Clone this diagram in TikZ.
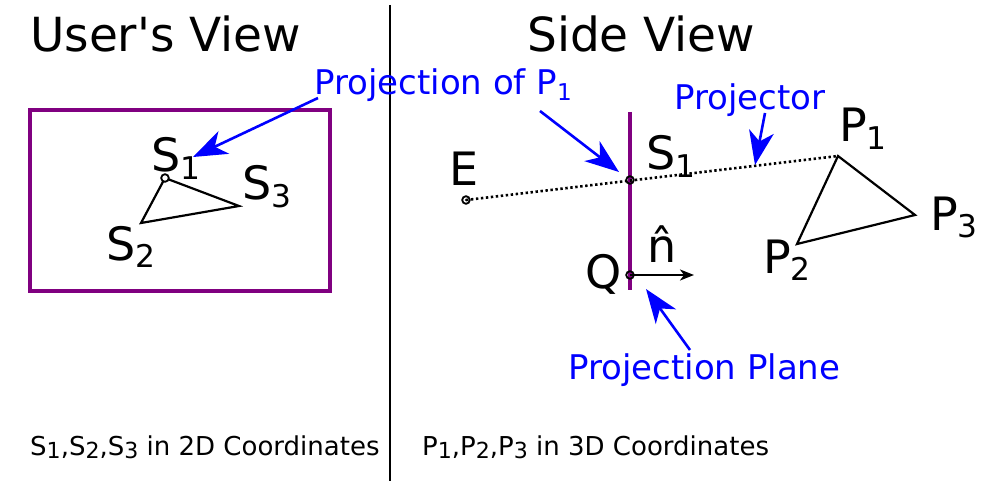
\documentclass[tikz,border=0pt]{standalone}
\usepackage{fontspec}
\setmainfont{DejaVu Sans}
\usepackage{tikz}
\usetikzlibrary{arrows.meta}
\definecolor{planepurple}{RGB}{128, 0, 128}
\definecolor{noteblue}{RGB}{0, 0, 255}
\newcommand{\sidx}[1]{\raisebox{-0.17em}{\scalebox{0.68}{#1}}}
\newcommand{\cidx}[1]{\raisebox{-0.12em}{\scalebox{0.85}{#1}}}
\tikzset{
  viewtitle/.style={font=\fontsize{47}{50}\selectfont, inner sep=0pt, anchor=base west},
  ptlabel/.style={font=\fontsize{46}{50}\selectfont, inner sep=0pt, anchor=base west},
  bluenote/.style={font=\fontsize{34}{36}\selectfont, text=noteblue, inner sep=0pt, anchor=base west},
  caption/.style={font=\fontsize{26}{28}\selectfont, inner sep=0pt, anchor=base west},
  pointer/.style={noteblue, line width=2.6pt, -{Stealth[length=34pt,width=25pt,inset=10pt]}},
  dotring/.style={line width=1.8pt},
}

\begin{document}
\begin{tikzpicture}[x=1pt, y=-1pt]
  \useasboundingbox (0,0) rectangle (993,481);
  % divider between the two views
  \coordinate (divtop) at (390,5);
  \coordinate (divbot) at (390,481);
  \draw[line width=2pt] (divtop) -- (divbot);

  \node[viewtitle] (usertitle) at (30,52) {User\textquotesingle s View};
  \node[viewtitle] (sidetitle) at (527,52) {Side View};

  % user's view: the screen
  \draw[planepurple, line width=4pt] (30,110) rectangle (330,291);
  \coordinate (s1) at (165,178);
  \coordinate (s2) at (141,223);
  \coordinate (s3) at (239,206);
  \draw[line width=2.2pt, line join=miter] (s1) -- (s2) -- (s3) -- cycle;
  \draw[dotring, fill=white] (s1) circle (3.8);
  \node[ptlabel] (s1lbl) at (151,172) {S\sidx{1}};
  \node[ptlabel] (s2lbl) at (106,260) {S\sidx{2}};
  \node[ptlabel] (s3lbl) at (242,200) {S\sidx{3}};

  % side view
  \coordinate (e) at (466,200);
  \coordinate (proj) at (630,180);
  \coordinate (p1) at (838,156);
  \coordinate (p2) at (797,244);
  \coordinate (p3) at (915,215);
  \coordinate (q) at (630,275);
  \coordinate (ntip) at (694,275);
  \coordinate (planetop) at (630,112);
  \coordinate (planebot) at (630,290);
  \draw[planepurple, line width=4pt] (planetop) -- (planebot);
  \draw[line width=2.6pt, dash pattern=on 2.4pt off 2.6pt] (e) -- (p1);
  \draw[line width=2.2pt, line join=miter] (p1) -- (p3) -- (p2) -- cycle;
  \draw[line width=1.8pt, -{Stealth[length=14pt,width=11pt,inset=4pt]}] (q) -- (ntip);
  \foreach \pt in {e, proj, q}
    \draw[dotring] (\pt) circle (3.8);
  \fill (e) circle (1.2);

  \node[ptlabel] (elbl) at (449,186) {E};
  \node[ptlabel] (projlbl) at (646,170) {S\sidx{1}};
  \node[ptlabel] (qlbl) at (585,288) {Q};
  \node[ptlabel] (nlbl) at (647,262) {n̂};
  \node[ptlabel] (p1lbl) at (839,142) {P\sidx{1}};
  \node[ptlabel] (p2lbl) at (763,273) {P\sidx{2}};
  \node[ptlabel] (p3lbl) at (930,230) {P\sidx{3}};

  % blue notes and their pointers
  \node[bluenote] (projnote) at (314,95) {Projection of P\sidx{1}};
  \node[bluenote] (projectornote) at (674,110) {Projector};
  \node[bluenote] (planenote) at (568,379) {Projection Plane};
  \coordinate (projfrom1) at (318,98);
  \coordinate (projto1) at (193,157);
  \coordinate (projfrom2) at (540,111);
  \coordinate (projto2) at (619,172);
  \coordinate (rayfrom) at (765,113);
  \coordinate (rayto) at (755,165);
  \coordinate (planefrom) at (690,350);
  \coordinate (planeto) at (646,289);
  \draw[pointer] (projfrom1) -- (projto1);
  \draw[pointer] (projfrom2) -- (projto2);
  \draw[pointer] (rayfrom) -- (rayto);
  \draw[pointer] (planefrom) -- (planeto);

  \node[caption] (leftcap) at (30,455) {S\cidx{1},S\cidx{2},S\cidx{3} in 2D Coordinates};
  \node[caption] (rightcap) at (422,455) {P\cidx{1},P\cidx{2},P\cidx{3} in 3D Coordinates};
\end{tikzpicture}
\end{document}
